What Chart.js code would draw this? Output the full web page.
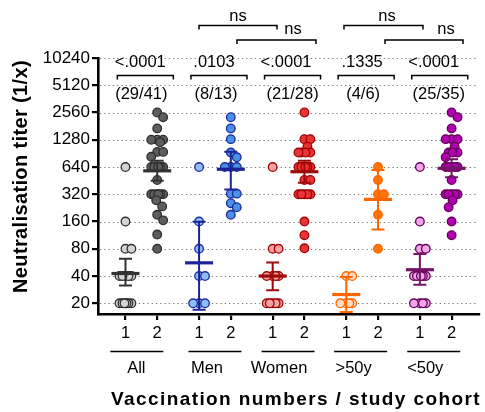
<!DOCTYPE html>
<html>
<head>
<meta charset="utf-8">
<script src="https://cdn.jsdelivr.net/npm/chart.js@4.4.1/dist/chart.umd.min.js"></script>
<style>
  html, body { margin: 0; padding: 0; background: #fff; }
  #chart { display: block; }
</style>
</head>
<body>
<canvas id="chart" width="485" height="412"></canvas>
<script>
// categories
const groups = ['All', 'Men', 'Women', '>50y', '<50y'];
const doseLabels = ['1', '2'];
const yTicks = [20, 40, 80, 160, 320, 640, 1280, 2560, 5120, 10240];
const pValues = ['<.0001', '.0103', '<.0001', '.1335', '<.0001'];
const counts = ['(29/41)', '(8/13)', '(21/28)', '(4/6)', '(25/35)'];

// individual titers
const allDose1 = [640, 160, 80, 80, 40, 40, 40, 40, 40, 20, 20, 20, 20, 20, 20, 20];
const allDose2 = [2560, 2270, 1710, 1280, 1280, 1280, 1200, 940, 940, 830, 640, 640, 640, 640, 640, 640,
  460, 320, 320, 320, 320, 320, 320, 275, 235, 190, 165, 115, 80];
const menDose1 = [640, 160, 80, 40, 40, 20, 20, 20];
const menDose2 = [2270, 1710, 1300, 925, 820, 640, 640, 640, 325, 325, 255, 230, 190];
const womenDose1 = [640, 80, 80, 40, 40, 40, 40, 20, 20, 20, 20, 20];
const womenDose2 = [2560, 1300, 1300, 1075, 925, 925, 925, 925, 640, 640, 640, 640, 640, 640,
  460, 460, 320, 320, 320, 320, 320, 160, 113, 81];
const over50Dose1 = [40, 40, 20, 20, 20, 20];
const over50Dose2 = [640, 460, 320, 320, 190, 80];
const under50Dose1 = [640, 160, 80, 80, 40, 40, 40, 40, 40, 40, 20, 20, 20, 20];
const under50Dose2 = [2560, 2270, 1710, 1300, 1300, 1300, 1075, 925, 925, 925, 820, 640, 640, 640, 640, 640,
  460, 320, 320, 320, 320, 320, 275, 230, 160, 113];

// geometric mean and error bars
const meanDose1 = [42.7, 56, 40, 25, 47];
const upperDose1 = [62, 159, 56.5, 39, 70];
const lowerDose1 = [31.4, 17, 27.9, 16, 32];
const meanDose2 = [581, 605, 568, 281, 620];
const upperDose2 = [750, 945, 752, 593, 780];
const lowerDose2 = [452, 362, 430, 131, 492];

const series = [
  [allDose1, allDose2],
  [menDose1, menDose2],
  [womenDose1, womenDose2],
  [over50Dose1, over50Dose2],
  [under50Dose1, under50Dose2]
];

const fillDose1 = ['#d4d4d4', '#8fbdf7', '#f7a3a3', '#ffdcc2', '#f2a6ea'];
const fillDose2 = ['#5e5e5e', '#4a8fe8', '#e83434', '#ff7700', '#b300b3'];
const edgeColor = ['#2e2e2e', '#1c2b99', '#a30000', '#ff6600', '#650057'];
const barColor = ['#333333', '#1c2395', '#9e0a0a', '#ff6600', '#741466'];

const FONT = "'Liberation Sans', Arial, Helvetica, sans-serif";
const GROUP_STEP = 2.32;
const pos = (g, d) => g * GROUP_STEP + d;

// simple beeswarm: spread points sideways, Prism-like, allowing some overlap
function swarm(values, xc) {
  const PX_X = 32, PX_Y = 27.3, D = 8, MAXOFF = 6;
  const placed = [];
  const out = [];
  values.slice().sort((a, b) => b - a).forEach(v => {
    const py = Math.log2(v) * PX_Y;
    let best = 0, bestD = -1;
    const cands = [0];
    for (let k = 1; k <= MAXOFF; k++) cands.push(k, -k);
    for (const c of cands) {
      let m = Infinity;
      placed.forEach(p => { m = Math.min(m, Math.hypot(p[0] - c, p[1] - py)); });
      if (m >= D) { best = c; bestD = m; break; }
      if (m > bestD) { bestD = m; best = c; }
    }
    placed.push([best, py]);
    out.push({ x: xc + best / PX_X, y: v });
  });
  return out;
}

const datasets = [];
series.forEach((pair, g) => {
  pair.forEach((vals, d) => {
    datasets.push({
      data: swarm(vals, pos(g, d)),
      backgroundColor: d === 0 ? fillDose1[g] : fillDose2[g],
      borderColor: edgeColor[g],
      pointRadius: 4.3,
      pointHoverRadius: 4.3,
      pointBorderWidth: 1.3,
      clip: false
    });
  });
});

const xTickValues = [];
groups.forEach((_, g) => { xTickValues.push(pos(g, 0), pos(g, 1)); });

const dottedGrid = {
  id: 'dottedGrid',
  beforeDatasetsDraw(chart) {
    const { ctx, chartArea, scales } = chart;
    ctx.save();
    ctx.strokeStyle = '#7a7a7a';
    ctx.lineWidth = 1.2;
    ctx.setLineDash([1.3, 3]);
    yTicks.forEach(t => {
      const y = Math.round(scales.y.getPixelForValue(t)) + 0.5;
      ctx.beginPath();
      ctx.moveTo(chartArea.left + 2, y);
      ctx.lineTo(chartArea.right - 3, y);
      ctx.stroke();
    });
    ctx.restore();
  }
};

const meanBars = {
  id: 'meanBars',
  afterDatasetsDraw(chart) {
    const { ctx, scales, chartArea } = chart;
    const yp = v => Math.min(scales.y.getPixelForValue(v), chartArea.bottom);
    ctx.save();
    groups.forEach((_, g) => {
      [[meanDose1, upperDose1, lowerDose1], [meanDose2, upperDose2, lowerDose2]].forEach((m, d) => {
        const x = scales.x.getPixelForValue(pos(g, d));
        const yM = yp(m[0][g]), yU = yp(m[1][g]), yL = yp(m[2][g]);
        ctx.strokeStyle = barColor[g];
        ctx.lineWidth = 2;
        ctx.beginPath();
        ctx.moveTo(x, yU); ctx.lineTo(x, yL);
        ctx.moveTo(x - 6.5, yU); ctx.lineTo(x + 6.5, yU);
        if (yL < chartArea.bottom - 1) { ctx.moveTo(x - 6.5, yL); ctx.lineTo(x + 6.5, yL); }
        ctx.stroke();
        ctx.lineWidth = 3.2;
        ctx.beginPath();
        ctx.moveTo(x - 14, yM); ctx.lineTo(x + 14, yM);
        ctx.stroke();
      });
    });
    ctx.restore();
  }
};

// fit a text to a given width: letter spacing first, then a small stretch if needed
function spacedText(ctx, text, x, y, width) {
  ctx.save();
  const w0 = ctx.measureText(text).width;
  if ('letterSpacing' in ctx) {
    ctx.letterSpacing = ((width - w0) / text.length).toFixed(2) + 'px';
  }
  const w = ctx.measureText(text).width;
  ctx.translate(x, y);
  ctx.scale(width / w, 1);
  ctx.textAlign = 'center';
  ctx.fillText(text, 0, 0);
  ctx.restore();
}

const annotations = {
  id: 'annotations',
  afterDraw(chart) {
    const { ctx, scales } = chart;
    const xs = scales.x;
    const center = g => (xs.getPixelForValue(pos(g, 0)) + xs.getPixelForValue(pos(g, 1))) / 2;
    const pShift = [-1, -1, -2.5, 0, -2];
    const cShift = [0, 1, 4, 1, 3];
    const lineShift = [-4.5, 0, -0.5, -1.5, -2];
    const labelShift = [-5, -8, -9.5, -8.5, -10.5];
    ctx.save();
    ctx.fillStyle = '#000';
    ctx.strokeStyle = '#000';
    ctx.textAlign = 'center';
    ctx.textBaseline = 'middle';
    ctx.font = '16.5px ' + FONT;
    ctx.lineWidth = 1.5;
    groups.forEach((name, g) => {
      const c = center(g);
      ctx.fillText(pValues[g], c + pShift[g], 62);
      ctx.fillText(counts[g], c + cShift[g], 94);
      const bc = c + 4;
      ctx.beginPath();
      ctx.moveTo(bc - 28, 79.5); ctx.lineTo(bc - 28, 75.5);
      ctx.lineTo(bc + 28, 75.5); ctx.lineTo(bc + 28, 79.5);
      ctx.stroke();
      // cohort underline and name
      const lc = c + lineShift[g];
      ctx.beginPath();
      ctx.moveTo(lc - 26.5, 351.5); ctx.lineTo(lc + 26.5, 351.5);
      ctx.stroke();
      ctx.fillText(name, c + labelShift[g], 368);
    });
    // ns brackets between cohorts
    const ns = [
      { x1: 199, x2: 277, y: 25.5, tx: 238, ty: 16 },
      { x1: 237, x2: 316, y: 40, tx: 293, ty: 29.5 },
      { x1: 344, x2: 423, y: 25.5, tx: 387, ty: 16 },
      { x1: 385, x2: 463, y: 40, tx: 446, ty: 29.5 }
    ];
    ns.forEach(b => {
      ctx.beginPath();
      ctx.moveTo(b.x1, b.y + 4); ctx.lineTo(b.x1, b.y);
      ctx.lineTo(b.x2, b.y); ctx.lineTo(b.x2, b.y + 4);
      ctx.stroke();
      ctx.fillText('ns', b.tx, b.ty);
    });
    // axis titles
    ctx.textBaseline = 'alphabetic';
    ctx.font = 'bold 19px ' + FONT;
    spacedText(ctx, 'Vaccination numbers / study cohort', 296, 405, 370);
    ctx.save();
    ctx.translate(27, 176.5);
    ctx.rotate(-Math.PI / 2);
    ctx.font = 'bold 20px ' + FONT;
    spacedText(ctx, 'Neutralisation titer (1/x)', 0, 0, 233);
    ctx.restore();
    ctx.restore();
  }
};

new Chart(document.getElementById('chart'), {
  type: 'scatter',
  data: { datasets },
  plugins: [dottedGrid, meanBars, annotations],
  options: {
    responsive: false,
    animation: false,
    devicePixelRatio: 1,
    layout: { padding: { top: 58, right: 2, left: 0, bottom: 0 } },
    plugins: { legend: { display: false }, tooltip: { enabled: false } },
    scales: {
      x: {
        type: 'linear',
        min: -0.866,
        max: 11.156,
        afterFit: s => { s.height = 98; },
        afterBuildTicks: s => { s.ticks = xTickValues.map(v => ({ value: v })); },
        ticks: {
          autoSkip: false,
          maxRotation: 0,
          padding: 4,
          color: '#000',
          font: { family: FONT, size: 16.5 },
          callback: (v, i) => doseLabels[i % 2]
        },
        grid: { drawOnChartArea: false, drawTicks: true, tickLength: 6, color: '#000', lineWidth: 2.2 },
        border: { display: true, color: '#000', width: 2.6 }
      },
      y: {
        type: 'logarithmic',
        min: 15.24,
        max: 10240,
        afterFit: s => { s.width = 98; },
        afterBuildTicks: s => { s.ticks = yTicks.map(v => ({ value: v })); },
        ticks: {
          autoSkip: false,
          padding: 2,
          color: '#000',
          font: { family: FONT, size: 17 },
          callback: v => String(v)
        },
        grid: { drawOnChartArea: false, drawTicks: true, tickLength: 6, color: '#000', lineWidth: 2.2 },
        border: { display: true, color: '#000', width: 2.6 }
      }
    }
  }
});
</script>
</body>
</html>
